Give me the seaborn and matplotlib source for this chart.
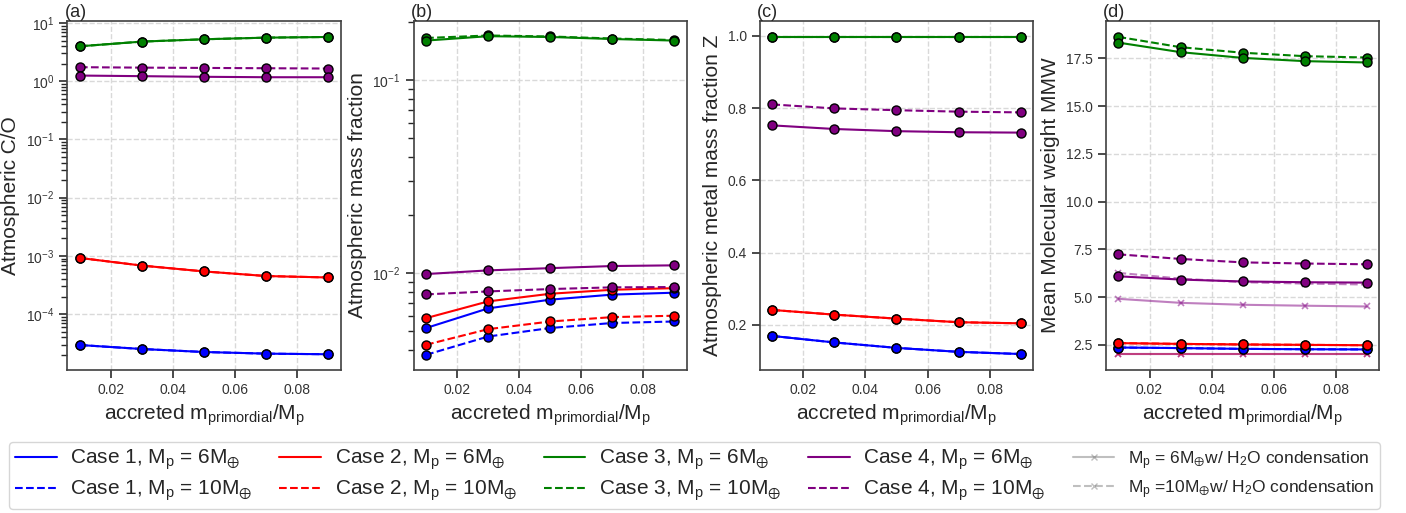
import numpy as np
import pandas as pd
import seaborn as sns
import matplotlib.pyplot as plt
from matplotlib.lines import Line2D

# accreted primordial mass fraction
x = [0.01, 0.03, 0.05, 0.07, 0.09]

# (a) atmospheric C/O
co_c1 = [2.94e-5, 2.51e-5, 2.23e-5, 2.09e-5, 2.04e-5]
co_c2 = [9.2e-4, 6.8e-4, 5.4e-4, 4.5e-4, 4.25e-4]
co_c3 = [3.98, 4.79, 5.25, 5.6, 5.75]
co_c4_6 = [1.25, 1.22, 1.19, 1.17, 1.17]
co_c4_10 = [1.74, 1.71, 1.69, 1.67, 1.65]

# (b) atmospheric mass fraction
mf_c1_6 = [0.00519, 0.00656, 0.00728, 0.00773, 0.00791]
mf_c1_10 = [0.00377, 0.00469, 0.00519, 0.00551, 0.00561]
mf_c2_6 = [0.00584, 0.00713, 0.00781, 0.00819, 0.00835]
mf_c2_10 = [0.00425, 0.00512, 0.00561, 0.00591, 0.00601]
mf_c3_6 = [0.160, 0.1686, 0.167, 0.163, 0.160]
mf_c3_10 = [0.165, 0.170, 0.168, 0.164, 0.161]
mf_c4_6 = [0.00988, 0.01032, 0.0106, 0.01087, 0.01096]
mf_c4_10 = [0.00775, 0.00803, 0.00826, 0.00843, 0.00846]

# (c) atmospheric metal mass fraction Z
z_c1 = [0.169, 0.151, 0.136, 0.125, 0.119]
z_c2 = [0.241, 0.228, 0.217, 0.207, 0.204]
z_c3 = [0.997, 0.997, 0.997, 0.997, 0.997]
z_c4_6 = [0.752, 0.742, 0.736, 0.733, 0.732]
z_c4_10 = [0.810, 0.799, 0.794, 0.790, 0.788]

# (d) mean molecular weight
mmw_c1 = [2.36, 2.33, 2.29, 2.27, 2.26]
mmw_c2 = [2.59, 2.55, 2.52, 2.50, 2.48]
mmw_c3_6 = [18.33, 17.83, 17.53, 17.36, 17.29]
mmw_c3_10 = [18.63, 18.09, 17.80, 17.62, 17.55]
mmw_c4_6 = [6.09, 5.92, 5.82, 5.78, 5.76]
mmw_c4_10 = [7.24, 7.00, 6.82, 6.76, 6.72]
# with H2O condensation
mmw_c12_cond = [2.02, 2.02, 2.02, 2.02, 2.02]
mmw_c4_6_cond = [4.91, 4.70, 4.60, 4.55, 4.51]
mmw_c4_10_cond = [6.27, 5.97, 5.78, 5.71, 5.66]

colors = {"1": "blue", "2": "red", "3": "green", "4": "purple"}

sns.set_theme(style="ticks", rc={"axes.grid": True, "grid.linestyle": "--",
                                 "grid.color": ".85", "axes.edgecolor": ".25",
                                 "axes.linewidth": 1.2})
plt.rcParams["font.family"] = ["Liberation Sans", "DejaVu Sans"]
plt.rcParams["mathtext.default"] = "regular"

fig, axes = plt.subplots(1, 4, figsize=(14.06, 5.13), dpi=100)
fig.subplots_adjust(left=0.048, right=0.981, top=0.959, bottom=0.279, wspace=0.267)


def draw(ax, y, case, ls="-"):
    sns.lineplot(x=x, y=y, ax=ax, color=colors[case], linestyle=ls, marker="o",
                 markersize=6.5, markeredgecolor="black", markeredgewidth=1,
                 linewidth=1.5)


def draw_cond(ax, y, case, ls="-"):
    sns.lineplot(x=x, y=y, ax=ax, color=colors[case], linestyle=ls, marker="x",
                 markersize=4, markeredgecolor=colors[case], markeredgewidth=1.2,
                 alpha=0.5, linewidth=1.5)


ax = axes[0]
draw(ax, co_c1, "1", "--")
draw(ax, co_c1, "1")
draw(ax, co_c2, "2", "--")
draw(ax, co_c2, "2")
draw(ax, co_c3, "3", "--")
draw(ax, co_c3, "3")
draw(ax, co_c4_10, "4", "--")
draw(ax, co_c4_6, "4")
ax.set_yscale("log")
ax.set_ylim(1.1e-5, 10.8)
ax.set_ylabel("Atmospheric C/O")

ax = axes[1]
draw(ax, mf_c1_10, "1", "--")
draw(ax, mf_c1_6, "1")
draw(ax, mf_c2_10, "2", "--")
draw(ax, mf_c2_6, "2")
draw(ax, mf_c3_10, "3", "--")
draw(ax, mf_c3_6, "3")
draw(ax, mf_c4_10, "4", "--")
draw(ax, mf_c4_6, "4")
ax.set_yscale("log")
ax.set_ylim(3.15e-3, 0.202)
ax.set_ylabel("Atmospheric mass fraction")

ax = axes[2]
draw(ax, z_c1, "1", "--")
draw(ax, z_c1, "1")
draw(ax, z_c2, "2", "--")
draw(ax, z_c2, "2")
draw(ax, z_c3, "3", "--")
draw(ax, z_c3, "3")
draw(ax, z_c4_10, "4", "--")
draw(ax, z_c4_6, "4")
ax.set_ylabel("Atmospheric metal mass fraction Z")

ax = axes[3]
draw_cond(ax, mmw_c12_cond, "1")
draw_cond(ax, mmw_c12_cond, "2")
draw_cond(ax, mmw_c4_10_cond, "4", "--")
draw_cond(ax, mmw_c4_6_cond, "4")
draw(ax, mmw_c1, "1", "--")
draw(ax, mmw_c1, "1")
draw(ax, mmw_c2, "2", "--")
draw(ax, mmw_c2, "2")
draw(ax, mmw_c3_10, "3", "--")
draw(ax, mmw_c3_6, "3")
draw(ax, mmw_c4_10, "4", "--")
draw(ax, mmw_c4_6, "4")
ax.set_ylabel("Mean Molecular weight MMW")

for ax, lab in zip(axes, "abcd"):
    ax.set_xlabel("accreted $m_{primordial}/M_p$", fontsize=15)
    ax.yaxis.label.set_size(15)
    ax.set_title(f"({lab})", loc="left", fontsize=13, pad=3, x=-0.01)
    ax.tick_params(labelsize=10, colors=".2")
    ax.set_xticks([0.02, 0.04, 0.06, 0.08])
    for s in ax.spines.values():
        s.set_visible(True)

handles, labels = [], []
for case in "1234":
    for mass, ls in [("6", "-"), ("10", "--")]:
        handles.append(Line2D([], [], color=colors[case], linestyle=ls, linewidth=1.5))
        labels.append(f"Case {case}, $M_p$ = {mass}$M_{{\\oplus}}$")
handles.append(Line2D([], [], color="grey", linestyle="-", marker="x",
                      markersize=4, alpha=0.5, linewidth=1.5))
labels.append("$M_p$ = 6$M_{\\oplus}$w/ $H_2$O condensation")
handles.append(Line2D([], [], color="grey", linestyle="--", marker="x",
                      markersize=4, alpha=0.5, linewidth=1.5))
labels.append("$M_p$ =10$M_{\\oplus}$w/ $H_2$O condensation")

leg = fig.legend(handles, labels, ncol=5, loc="upper center",
                 bbox_to_anchor=(0.494, 0.139), fontsize=15, frameon=True,
                 handlelength=2.0, handletextpad=0.65, columnspacing=1.3,
                 borderpad=0.3, labelspacing=0.3, borderaxespad=0)
leg.get_frame().set_edgecolor(".8")
for t in leg.get_texts()[-2:]:
    t.set_fontsize(12.5)

fig.savefig("out.png", dpi=100)
